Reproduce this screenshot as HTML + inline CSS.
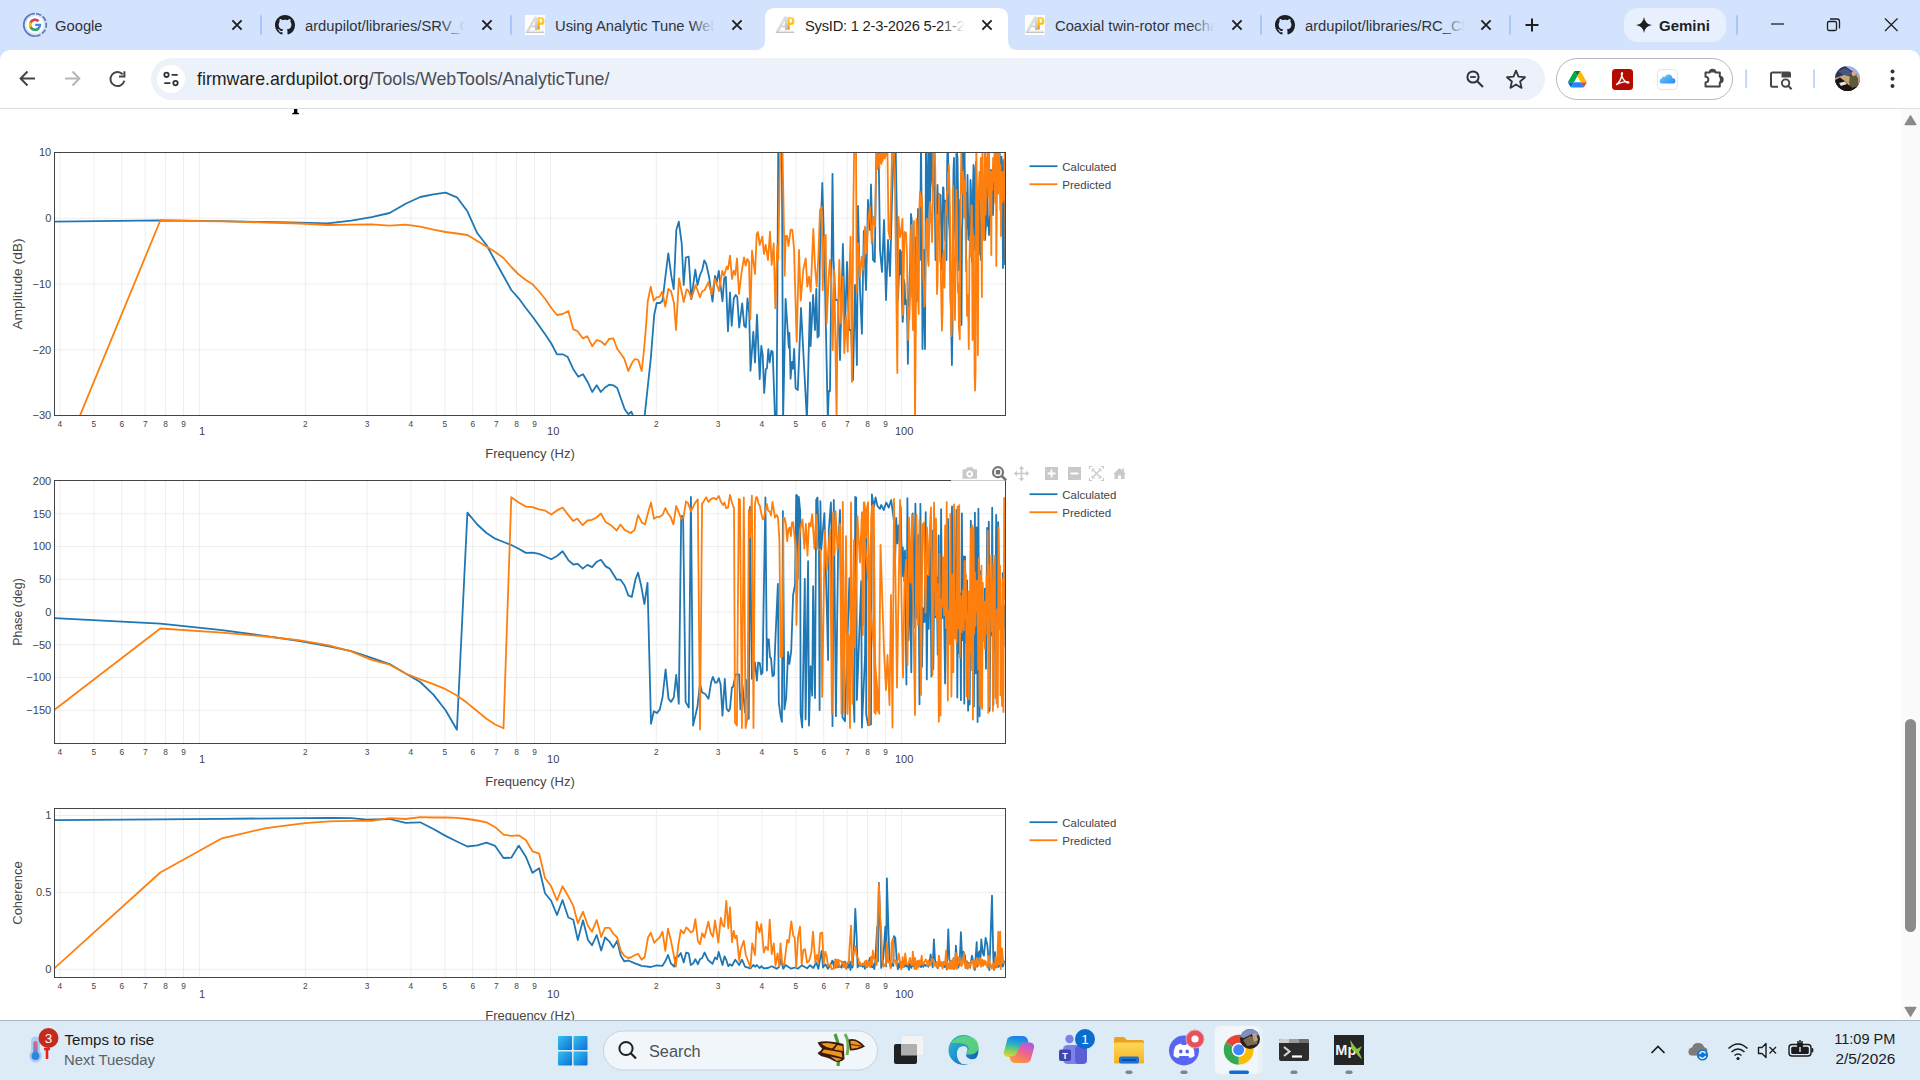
<!DOCTYPE html>
<html><head><meta charset="utf-8"><title>SysID</title>
<style>
*{box-sizing:border-box;margin:0;padding:0}
html,body{width:1920px;height:1080px;overflow:hidden;background:#fff;font-family:"Liberation Sans",sans-serif;}
#root{position:relative;width:1920px;height:1080px;overflow:hidden;background:#fff}
.abs{position:absolute}
#tabstrip{position:absolute;left:0;top:0;width:1920px;height:62px;background:#d3e3fd}
.tabtitle{position:absolute;top:15px;height:22px;line-height:22px;font-size:14.75px;color:#1f1f1f;white-space:nowrap;overflow:hidden}
.tabtitle.in{color:#30343a}
.fade{position:absolute;top:12px;width:28px;height:28px}
.tsep{position:absolute;top:15px;width:2px;height:20px;background:#a8c7fa;border-radius:1px}
#toolbar{position:absolute;left:0;top:50px;width:1920px;height:59px;background:#fff;border-bottom:1px solid #dcdfe3;border-radius:10px 10px 0 0}
#omni{position:absolute;left:151px;top:8px;width:1394px;height:42px;border-radius:21px;background:#edf2fa}
#url{position:absolute;left:46px;top:9px;font-size:17.75px;line-height:24px;color:#4a4d51;white-space:nowrap;letter-spacing:0px}
#url b{font-weight:normal;color:#1f1f1f}
#extpill{position:absolute;left:1556px;top:8px;width:177px;height:42px;border-radius:21px;border:1.5px solid #b7b9bb;background:#fff}
#page{position:absolute;left:0;top:109px;width:1920px;height:911px;background:#fff;overflow:hidden}
#sbar{position:absolute;left:1901px;top:109px;width:19px;height:911px;background:#fafafa}
#taskbar{position:absolute;left:0;top:1020px;width:1920px;height:60px;background:#dcebf5;border-top:1px solid #aeb8c2}
.tb{position:absolute}
.ttxt{font-family:"Liberation Sans",sans-serif;fill:#444}
</style></head><body><div id="root">
<div id="tabstrip">
<svg class="abs" style="left:0;top:0" width="1920" height="62" viewBox="0 0 1920 62">
<defs>
<g id="gh"><path transform="scale(1.25)" fill="#1b1f23" d="M8 0C3.58 0 0 3.58 0 8c0 3.54 2.29 6.53 5.47 7.59.4.07.55-.17.55-.38 0-.19-.01-.82-.01-1.49-2.01.37-2.53-.49-2.69-.94-.09-.23-.48-.94-.82-1.13-.28-.15-.68-.52-.01-.53.63-.01 1.08.58 1.23.82.72 1.21 1.87.87 2.33.66.07-.52.28-.87.51-1.07-1.78-.2-3.64-.89-3.64-3.95 0-.87.31-1.59.82-2.15-.08-.2-.36-1.02.08-2.12 0 0 .67-.21 2.2.82.64-.18 1.32-.27 2-.27.68 0 1.36.09 2 .27 1.53-1.04 2.2-.82 2.2-.82.44 1.1.16 1.92.08 2.12.51.56.82 1.27.82 2.15 0 3.07-1.87 3.75-3.65 3.95.29.25.54.73.54 1.48 0 1.07-.01 1.93-.01 2.2 0 .21.15.46.55.38A8.013 8.013 0 0016 8c0-4.42-3.58-8-8-8z"/></g>
<g id="ap"><rect x="0" y="0" width="20" height="20" fill="#fefefe"/>
<linearGradient id="apa" x1="0" y1="0" x2="1" y2="1"><stop offset="0" stop-color="#f4f4f4"/><stop offset=".55" stop-color="#d9d9d9"/><stop offset="1" stop-color="#b4b4b4"/></linearGradient>
<linearGradient id="app" x1="0" y1="0" x2="0" y2="1"><stop offset="0" stop-color="#ffd84d"/><stop offset=".6" stop-color="#fdb913"/><stop offset="1" stop-color="#f08a00"/></linearGradient>
<path d="M0.600 17.200 L9.200 1.600 L11.800 1.600 L12.300 15.200 L10 15.200 L9.900 12.300 L6.300 12.300 L3.600 17.200 Z M7.300 10.400 L9.800 10.400 L9.600 5.800 Z" fill="url(#apa)" fill-rule="evenodd"/>
<path d="M12.300 2 L16 2 Q19.500 2 19.500 5.900 Q19.500 9.800 16 9.800 L14.800 9.800 L14.800 14.600 L12.300 14.600 Z M14.800 4.100 L14.800 7.700 L15.700 7.700 Q17 7.700 17 5.900 Q17 4.100 15.700 4.100 Z" fill="url(#app)" fill-rule="evenodd"/>
<path d="M0.800 17.400 L19.200 17.400" stroke="#bdbdbd" stroke-width="1"/><path d="M3.500 16.200 L19 16.200" stroke="#dedede" stroke-width=".9"/></g>
<g id="cx"><path d="M-4.6 -4.6 L4.6 4.6 M4.6 -4.6 L-4.6 4.6" stroke="#1f1f1f" stroke-width="1.9" fill="none"/></g>
</defs>
<!-- active tab shape -->
<path d="M755 50 Q765 50 765 40 L765 18 Q765 8 775 8 L998 8 Q1008 8 1008 18 L1008 40 Q1008 50 1018 50 Z" fill="#fff"/>
<!-- google favicon -->
<path d="M35 13.500 A11.300 11.300 0 0 0 35 36.100" fill="none" stroke="#5a7ab5" stroke-width="1.700"/>
<path d="M35 13.500 A11.300 11.300 0 0 1 35 36.100" fill="none" stroke="#5a7ab5" stroke-width="1.700" stroke-dasharray="5.300 1.800" stroke-dashoffset="-1.200"/>
<circle cx="35" cy="24.800" r="8.800" fill="#fff"/>
<g transform="translate(35,24.800) scale(.86)"><path d="M7.200 -1.300 L0.200 -1.300 L0.200 1.500 L4.200 1.500 A4.400 4.400 0 1 1 3 -3.300 L5 -5.300 A7.200 7.200 0 1 0 7.300 0 Z" fill="#4285f4"/><path d="M-6.300 -3.500 A7.200 7.200 0 0 1 5 -5.300 L3 -3.300 A4.400 4.400 0 0 0 -3.900 -2 Z" fill="#ea4335"/><path d="M-6.300 -3.500 L-3.900 -2 A4.400 4.400 0 0 0 -3.900 2.100 L-6.300 3.700 A7.200 7.200 0 0 1 -6.300 -3.500 Z" fill="#fbbc05"/><path d="M-6.300 3.700 L-3.900 2.100 A4.400 4.400 0 0 0 3 3.400 L5.200 5.100 A7.200 7.200 0 0 1 -6.300 3.700 Z" fill="#34a853"/></g>
<use href="#cx" x="237" y="25"/>
<use href="#gh" x="275" y="15"/>
<use href="#cx" x="487" y="25"/>
<use href="#ap" x="525" y="15"/>
<use href="#cx" x="737" y="25"/>
<use href="#ap" x="775" y="15"/>
<use href="#cx" x="987" y="25"/>
<use href="#ap" x="1025" y="15"/>
<use href="#cx" x="1237" y="25"/>
<use href="#gh" x="1275" y="15"/>
<use href="#cx" x="1486" y="25"/>
<!-- plus -->
<path d="M1525.5 25 L1538.5 25 M1532 18.5 L1532 31.5" stroke="#1f1f1f" stroke-width="2" fill="none"/>
<!-- gemini pill -->
<rect x="1624" y="8" width="102" height="34" rx="14" fill="#e9f0fd"/>
<path d="M1644 17 Q1645 24 1652 25 Q1645 26 1644 33 Q1643 26 1636 25 Q1643 24 1644 17 Z" fill="#1f1f1f"/>
<!-- window controls -->
<path d="M1771 24 L1784 24" stroke="#1f1f1f" stroke-width="1.3"/>
<rect x="1827.5" y="21.5" width="9" height="9" rx="1.5" fill="none" stroke="#1f1f1f" stroke-width="1.3"/>
<path d="M1830 19 L1837 19 Q1839.5 19 1839.5 21.5 L1839.5 28.5" fill="none" stroke="#1f1f1f" stroke-width="1.3"/>
<path d="M1885 18.5 L1897.5 31 M1897.5 18.5 L1885 31" stroke="#1f1f1f" stroke-width="1.3"/>
</svg>
<div class="tsep" style="left:260px"></div>
<div class="tsep" style="left:510px"></div>
<div class="tsep" style="left:1260px"></div>
<div class="tsep" style="left:1509px"></div>
<div class="tsep" style="left:1736px"></div>
<div class="tabtitle in" style="left:55px;width:160px">Google</div>
<div class="tabtitle in" style="left:305px;width:162px">ardupilot/libraries/SRV_C</div>
<div class="fade" style="left:441px;background:linear-gradient(90deg,rgba(211,227,253,0),#d3e3fd 85%)"></div>
<div class="tabtitle in" style="left:555px;width:162px">Using Analytic Tune Web</div>
<div class="fade" style="left:691px;background:linear-gradient(90deg,rgba(211,227,253,0),#d3e3fd 85%)"></div>
<div class="tabtitle" style="left:805px;width:162px;letter-spacing:-.25px">SysID: 1 2-3-2026 5-21-2</div>
<div class="fade" style="left:941px;background:linear-gradient(90deg,rgba(255,255,255,0),#fff 85%)"></div>
<div class="tabtitle in" style="left:1055px;width:162px">Coaxial twin-rotor mecha</div>
<div class="fade" style="left:1191px;background:linear-gradient(90deg,rgba(211,227,253,0),#d3e3fd 85%)"></div>
<div class="tabtitle in" style="left:1305px;width:162px">ardupilot/libraries/RC_Cl</div>
<div class="fade" style="left:1441px;background:linear-gradient(90deg,rgba(211,227,253,0),#d3e3fd 85%)"></div>
<div class="tabtitle" style="left:1659px;width:70px;font-size:15px;font-weight:bold;color:#1f1f1f;letter-spacing:0px">Gemini</div>
</div>
<div id="toolbar">
<div id="omni"><div class="abs" style="left:6px;top:7px;width:28px;height:28px;border-radius:14px;background:#fff"></div>
<div id="url"><b>firmware.ardupilot.org</b>/Tools/WebTools/AnalyticTune/</div></div>
<div id="extpill"></div>
<svg class="abs" style="left:0;top:0" width="1920" height="58" viewBox="0 50 1920 58">
<!-- back -->
<path d="M35 78.500 L21 78.500 M27.500 71.500 L20.600 78.500 L27.500 85.500" fill="none" stroke="#444746" stroke-width="2"/>
<!-- forward -->
<path d="M65 78.500 L79 78.500 M72.500 71.500 L79.400 78.500 L72.500 85.500" fill="none" stroke="#b4b6b8" stroke-width="2"/>
<!-- reload -->
<path d="M122.600 74.300 A7 7 0 1 0 124.300 80.600" fill="none" stroke="#444746" stroke-width="2"/>
<path d="M124.400 71.200 L124.400 76.600 L119 76.600" fill="none" stroke="#444746" stroke-width="2"/>
<!-- site info (tune) -->
<g stroke="#30343a" stroke-width="1.800" fill="none"><path d="M171.600 74.800 L177.700 74.800 M164.300 83.100 L170.400 83.100"/><circle cx="166.500" cy="74.800" r="2.200"/><circle cx="175.500" cy="83.100" r="2.200"/></g>
<!-- zoom out icon -->
<g stroke="#30343a" stroke-width="2" fill="none"><circle cx="1473" cy="77" r="5.6"/><path d="M1477.2 81.2 L1483 87"/><path d="M1470.2 77 L1475.8 77" stroke-width="1.8"/></g>
<!-- star -->
<path d="M1516 70.6 L1518.5 76.6 L1525 77.2 L1520.1 81.5 L1521.6 87.9 L1516 84.5 L1510.4 87.9 L1511.9 81.5 L1507 77.2 L1513.5 76.6 Z" fill="none" stroke="#30343a" stroke-width="1.8" stroke-linejoin="round"/>
<!-- drive -->
<g transform="translate(1568.100,71) scale(.2115)"><path d="m6.600 66.850 3.850 6.650c.8 1.400 1.950 2.500 3.300 3.300l13.750-23.800h-27.500c0 1.550.4 3.100 1.200 4.500z" fill="#0066da"/><path d="m43.650 25-13.750-23.800c-1.350.8-2.500 1.900-3.300 3.300l-25.400 44a9.060 9.060 0 0 0 -1.200 4.500h27.500z" fill="#00ac47"/><path d="m73.550 76.800c1.350-.8 2.500-1.900 3.300-3.300l1.600-2.750 7.650-13.250c.8-1.400 1.200-2.950 1.200-4.500h-27.502l5.852 11.500z" fill="#ea4335"/><path d="m43.650 25 13.750-23.800c-1.350-.8-2.900-1.200-4.500-1.200h-18.500c-1.600 0-3.150.45-4.500 1.200z" fill="#00832d"/><path d="m59.800 53h-32.300l-13.750 23.800c1.350.8 2.900 1.200 4.500 1.200h50.800c1.600 0 3.150-.45 4.500-1.200z" fill="#2684fc"/><path d="m73.400 26.500-12.700-22c-.8-1.400-1.950-2.500-3.300-3.300l-13.750 23.800 16.150 28h27.450c0-1.550-.4-3.100-1.200-4.500z" fill="#ffba00"/></g>
<!-- acrobat -->
<rect x="1612" y="69" width="21" height="21" rx="3.5" fill="#b30b00"/>
<path d="M1616.5 84.5 Q1620.5 82 1622.3 74 Q1622.8 72.5 1621.8 72.8 Q1620.8 73.5 1622.3 77 Q1624 81.5 1628 83 Q1629.3 83 1628.5 82 Q1625 80.5 1616.5 84.5 Z" fill="none" stroke="#fff" stroke-width="1.4" stroke-linejoin="round"/>
<!-- icloud -->
<defs><linearGradient id="icg" x1="0" y1="0" x2="1" y2="1"><stop offset="0" stop-color="#6fd0fb"/><stop offset="1" stop-color="#2a86f3"/></linearGradient></defs>
<rect x="1657.5" y="69.5" width="20" height="20" rx="4" fill="#fff" stroke="#e3e5e8" stroke-width="1"/>
<path d="M1662.5 83.6 Q1659.6 83.6 1659.6 81 Q1659.6 78.8 1661.8 78.4 Q1662 76.6 1663.8 76.6 Q1664.4 76.6 1664.9 76.9 Q1666 74.6 1668.6 74.6 Q1672 74.6 1672.4 78 Q1675.4 78.2 1675.4 80.9 Q1675.4 83.6 1672.6 83.6 Z" fill="url(#icg)"/>
<!-- puzzle -->
<path d="M1705.500 72.600 H1709.700 A2.900 2.900 0 0 1 1715.500 72.600 H1719.800 V76.700 A2.900 2.900 0 0 1 1719.800 82.500 V86.600 H1705.500 V82.400 A2.850 2.850 0 0 0 1705.500 76.700 Z" fill="none" stroke="#444746" stroke-width="2" stroke-linejoin="round"/>
<path d="M1709.700 72.600 A2.900 2.900 0 0 1 1715.500 72.600 Z" fill="#444746"/><path d="M1719.800 76.700 A2.900 2.900 0 0 1 1719.800 82.500 Z" fill="#444746"/>
<!-- separators -->
<rect x="1745.100" y="69.300" width="2" height="19" rx="1" fill="#c2d7fb"/>
<rect x="1813" y="69.300" width="2" height="19" rx="1" fill="#c2d7fb"/>
<!-- media/tab search -->
<path d="M1781.500 72.400 H1772.500 Q1771 72.400 1771 73.900 V85.300 Q1771 86.800 1772.500 86.800 H1778" fill="none" stroke="#444746" stroke-width="2"/>
<path d="M1781.500 71.400 H1789 Q1791 71.400 1791 73.400 V77.600 H1781.500 Z" fill="#444746"/>
<circle cx="1785.600" cy="83.100" r="3.700" fill="none" stroke="#444746" stroke-width="1.900"/><path d="M1788.300 85.900 L1791.600 89.300" stroke="#444746" stroke-width="2"/>
<!-- avatar -->
<defs><clipPath id="avc"><circle cx="1847.5" cy="78.5" r="12.5"/></clipPath>
<linearGradient id="avg" x1="0" y1="0" x2="0" y2="1"><stop offset="0" stop-color="#6a7fa8"/><stop offset=".3" stop-color="#8a8a96"/><stop offset=".5" stop-color="#5a4a3c"/><stop offset="1" stop-color="#1c1612"/></linearGradient></defs>
<g clip-path="url(#avc)"><rect x="1835" y="66" width="25" height="25" fill="#9fb2e6"/><rect x="1835" y="78" width="25" height="14" fill="#3a3226"/>
<path d="M1835 66 L1845 66 L1856 74 L1860 79 L1835 82 Z" fill="#2c3654"/>
<path d="M1838 71 L1846 68 L1854 74 L1846 77 Z" fill="#4a5680"/>
<path d="M1835 78 L1844 75 L1852 77 L1860 74 L1860 84 L1835 86 Z" fill="#c7a679"/>
<path d="M1835 80 L1840 77.500 L1846 82 L1850 87 L1860 85 L1860 92 L1835 92 Z" fill="#1b1512"/><rect x="1835" y="87.500" width="25" height="5" fill="#1b1512"/>
<path d="M1850 76 L1855 74.500 L1858 78 L1858.500 86 L1852 88 L1849 83 Z" fill="#5d5a3c"/>
<circle cx="1853.800" cy="73.800" r="2.300" fill="#dba98c"/>
<path d="M1839 83 L1845 81.500 L1847 84 L1841 86 Z" fill="#e8e6e0"/></g>
<!-- menu dots -->
<circle cx="1892.5" cy="71.5" r="2" fill="#30343a"/><circle cx="1892.5" cy="78.8" r="2" fill="#30343a"/><circle cx="1892.5" cy="86.1" r="2" fill="#30343a"/>
</svg>
</div>
<div id="page">
<svg class="abs" style="left:0;top:0" width="1901" height="911" viewBox="0 109 1901 911" font-family="Liberation Sans, sans-serif">
<path d="M294 109 H297.300 V112.600 L299 113.300 V114.200 H292.200 V113.300 L294 112.600 Z" fill="#000"/>
<clipPath id="clip1"><rect x="54.5" y="152.5" width="951.0" height="263.0"/></clipPath>
<path d="M59.9 152.5V415.5M93.9 152.5V415.5M121.7 152.5V415.5M145.2 152.5V415.5M165.6 152.5V415.5M183.5 152.5V415.5M199.6 152.5V415.5M305.3 152.5V415.5M367.1 152.5V415.5M410.9 152.5V415.5M444.9 152.5V415.5M472.7 152.5V415.5M496.2 152.5V415.5M516.6 152.5V415.5M534.5 152.5V415.5M550.6 152.5V415.5M656.3 152.5V415.5M718.1 152.5V415.5M761.9 152.5V415.5M795.9 152.5V415.5M823.7 152.5V415.5M847.2 152.5V415.5M867.6 152.5V415.5M885.5 152.5V415.5M901.6 152.5V415.5" stroke="#eeeeee" stroke-width="1" fill="none"/>
<path d="M54.5 218.2H1005.5M54.5 284.0H1005.5M54.5 349.8H1005.5" stroke="#eeeeee" stroke-width="1" fill="none"/>
<g clip-path="url(#clip1)" fill="none" stroke-linejoin="round" stroke-linecap="butt">
<polyline points="54.5,221.7 160.3,220.3 222.0,221.2 266.0,222.0 300.0,222.6 327.7,223.3 351.2,220.7 371.6,217.2 389.6,213.0 405.6,203.7 420.2,197.0 433.4,194.3 445.6,192.7 456.9,197.3 467.4,211.3 477.3,233.3 486.5,245.0 495.2,261.0 503.5,276.0 511.3,290.0 518.7,298.3 525.8,308.0 532.6,316.7 539.1,325.7 545.3,334.5 551.3,343.5 557.0,354.3 562.6,354.3 567.5,356.7 573.3,369.2 578.3,376.7 583.0,374.2 587.5,381.7 592.2,392.0 596.7,385.3 600.8,392.0 605.0,387.5 609.2,384.7 613.3,385.3 617.2,388.0 620.8,398.3 624.7,409.2 628.3,414.2 631.3,411.7 634.5,419.0 638.0,432.0 641.5,436.0 644.7,415.3 648.3,381.7 650.8,358.3 654.2,315.0 656.7,303.0 660.0,303.0 662.5,300.8 665.3,277.5 668.3,253.3 671.3,275.8 673.7,289.2 676.3,230.0 678.8,221.7 681.7,243.3 683.7,285.0 685.8,257.5 688.7,256.7 691.3,299.2 695.3,269.7 697.5,285.0 700.0,275.0 702.2,270.0 704.3,260.3 706.3,264.2 709.2,277.5 712.5,301.7 715.0,275.8 716.7,282.5 718.8,270.8 722.5,301.3 724.2,278.3 725.8,276.7 728.0,331.3 730.0,292.5 731.7,325.8 733.8,298.3 735.8,295.0 737.2,296.7 739.2,327.5 742.2,303.3 744.2,325.8 745.8,327.5 747.5,298.3 749.2,313.3 750.5,370.8 753.3,331.7 755.0,362.5 757.0,314.7 759.7,379.2 761.3,345.8 762.7,355.0 764.2,393.0 765.8,369.2 767.0,368.3 768.3,349.2 769.7,362.5 771.3,350.8 772.7,351.7 775.0,418.0 776.5,430.0 778.3,140.0 781.8,140.0 783.1,420.0 785.6,298.8 788.8,347.5 789.4,333.0 790.6,378.8 791.9,361.9 793.1,368.8 794.1,348.8 795.6,388.0 797.8,390.0 799.4,350.0 801.0,308.0 806.9,420.0 810.0,302.5 810.6,346.0 813.1,295.0 815.0,330.0 816.3,288.8 817.5,337.5 818.8,336.0 820.0,250.0 822.3,183.0 824.0,240.0 825.0,285.0 827.8,420.0 828.8,391.0 830.0,391.0 831.9,230.0 832.5,173.8 833.5,260.0 835.5,300.0 838.0,300.0 840.0,360.0 842.9,244.0 845.0,330.0 847.0,262.0 849.0,330.0 851.0,330.0 853.0,380.0 855.0,285.0 856.9,365.0 858.0,206.0 860.0,290.0 861.9,333.8 863.8,231.0 866.0,290.0 868.0,200.0 870.0,230.0 871.0,184.4 873.0,260.0 874.8,262.0 876.0,170.0 877.0,140.0 878.5,140.0 880.0,250.0 882.0,272.0 884.0,220.0 886.0,300.0 888.0,240.0 890.0,276.0 892.0,200.0 894.0,140.0 895.5,140.0 896.9,217.5 898.0,300.0 900.0,250.0 900.7,274.0 901.3,251.9 902.0,298.0 902.7,321.9 903.3,313.3 904.0,280.0 904.7,284.5 905.3,304.1 906.0,300.0 906.6,302.5 907.3,324.2 907.9,363.8 908.7,308.0 909.5,280.0 910.2,259.7 911.0,214.0 911.7,219.7 912.3,296.8 913.0,290.0 913.7,247.4 914.3,242.4 915.0,250.0 915.7,237.7 916.3,302.3 917.0,300.0 918.0,209.0 918.7,213.7 919.3,240.4 920.0,260.0 921.0,140.0 921.8,228.5 922.5,349.0 923.2,312.1 924.0,250.0 925.0,349.0 926.0,140.0 926.8,186.2 927.5,250.0 928.5,140.0 929.0,140.0 929.5,186.9 930.0,220.0 930.5,183.0 931.0,146.1 931.5,140.0 932.0,173.7 932.5,182.8 933.0,190.0 933.5,173.7 934.0,140.0 934.5,200.2 935.0,214.4 935.5,260.0 936.0,234.3 936.5,218.1 937.0,198.3 937.5,185.0 938.0,213.0 938.5,193.4 939.0,240.0 939.5,222.9 940.0,212.0 940.5,195.0 941.0,214.2 941.5,227.1 942.0,270.0 942.5,254.4 943.0,187.3 943.5,188.0 944.0,209.0 944.5,202.8 945.0,240.0 945.5,200.6 946.0,221.7 946.5,260.0 947.0,177.0 947.5,145.4 948.0,140.0 948.5,188.3 949.0,222.6 949.5,230.0 950.0,243.4 950.5,299.1 950.9,308.5 951.4,337.8 951.9,365.0 952.5,329.7 953.0,220.0 953.5,170.3 954.0,158.0 954.5,219.8 955.0,230.5 955.5,240.0 956.0,228.1 956.5,140.0 957.0,153.0 957.5,158.1 958.0,192.9 958.5,270.0 959.0,234.1 959.5,259.6 960.0,200.0 960.5,272.2 961.0,310.9 961.5,325.0 962.0,232.3 962.5,218.4 963.0,140.0 963.5,162.3 964.0,165.2 964.5,140.0 965.0,204.5 965.5,192.1 966.0,262.0 966.5,206.9 967.0,227.8 967.5,175.0 968.0,209.5 968.5,239.4 969.0,240.0 969.5,217.1 970.0,220.9 970.5,180.0 971.0,191.5 971.5,254.8 972.0,262.0 972.5,251.3 973.0,188.2 973.5,165.0 974.0,169.0 974.5,224.4 975.0,250.0 975.5,216.7 976.0,162.0 976.5,196.2 977.0,222.4 977.5,290.0 978.0,247.5 978.5,248.3 979.0,200.0 979.5,191.9 980.0,254.6 980.5,230.9 981.0,260.0 981.5,225.9 982.0,203.2 982.5,234.6 983.0,190.0 983.5,223.7 984.0,205.5 984.5,206.1 985.0,240.0 985.5,231.1 986.0,225.3 986.5,175.7 987.0,180.0 987.5,200.8 988.0,226.3 988.5,219.1 989.0,235.0 989.5,221.8 990.0,215.9 990.5,174.7 991.0,170.0 991.5,171.3 992.0,199.6 992.5,206.1 993.0,215.0 993.5,197.7 994.0,170.6 994.5,177.0 995.0,140.0 995.5,161.1 996.0,200.0 996.5,185.9 997.0,173.0 997.5,140.0 998.0,140.0 998.5,140.0 999.0,140.0 999.5,147.6 1000.0,162.2 1000.5,210.0 1001.0,174.2 1001.5,156.6 1002.0,162.0 1002.5,206.1 1003.0,268.0 1003.5,206.7 1004.0,160.0 1004.5,210.0 1005.0,265.0" stroke="#1f77b4" stroke-width="1.8"/>
<polyline points="54.5,477.4 160.3,220.5 222.0,221.3 266.0,222.5 300.0,223.5 327.7,225.0 351.2,224.7 371.6,224.3 389.6,225.7 405.6,224.7 420.2,226.7 433.4,229.7 445.6,232.0 456.9,233.5 467.4,235.0 477.3,241.0 486.5,246.5 495.2,252.0 503.5,258.0 511.3,267.0 518.7,274.5 525.8,280.0 532.6,284.3 539.1,291.5 545.3,299.0 551.3,308.0 557.0,315.0 562.6,314.0 568.3,311.0 573.3,329.3 577.3,331.0 582.7,338.3 587.3,336.3 592.3,346.3 596.7,340.0 600.7,341.3 605.0,345.0 609.0,339.0 613.3,338.3 617.3,349.0 621.0,354.0 624.3,358.7 628.3,371.0 632.3,362.3 635.0,359.0 638.3,360.0 641.7,371.0 644.0,350.0 646.0,326.7 647.7,301.7 650.7,286.7 653.7,300.7 656.7,297.3 659.7,296.7 662.3,291.7 665.3,306.7 668.3,289.0 671.0,291.0 674.0,303.3 676.0,330.0 679.0,278.3 683.7,302.0 686.7,289.3 688.7,291.0 691.3,298.7 695.7,285.0 700.0,297.3 702.3,291.3 704.7,290.0 708.3,282.3 711.7,294.0 715.0,279.0 719.0,291.0 722.3,271.0 724.0,275.7 726.7,266.7 728.0,269.3 730.0,255.7 732.0,279.0 733.7,270.7 735.3,275.0 737.0,258.3 739.0,294.0 741.7,271.7 744.0,257.3 745.7,265.7 747.3,259.0 749.0,261.7 750.3,319.3 752.0,250.7 755.0,274.0 756.7,234.0 758.0,232.0 759.7,245.0 762.3,236.7 764.0,254.0 765.7,245.0 768.0,260.0 770.0,231.7 771.7,265.0 773.7,243.3 775.3,308.3 777.3,245.7 778.3,260.0 779.7,175.0 780.3,140.0 782.3,140.0 783.3,191.7 784.7,275.7 785.7,236.0 787.0,236.0 788.5,246.0 790.6,229.6 792.3,230.0 794.0,248.3 796.7,341.7 799.0,250.0 800.7,300.7 803.3,270.0 805.7,258.3 807.3,286.7 809.0,276.7 810.7,291.7 813.3,229.0 815.0,266.7 816.7,286.7 818.3,258.3 820.0,210.0 821.7,206.7 822.7,290.0 824.3,236.7 825.7,235.0 826.7,323.3 828.7,276.7 830.0,260.0 831.7,290.0 832.7,350.0 834.3,270.0 836.6,420.0 837.3,343.3 839.3,260.0 841.0,323.3 842.7,276.7 844.3,353.3 846.0,316.7 847.7,351.7 849.3,276.7 850.6,236.7 851.9,381.9 853.3,210.0 854.3,140.0 856.0,140.0 856.7,293.0 858.3,243.3 860.0,276.7 861.7,256.7 863.3,270.0 865.0,226.7 866.7,253.3 868.3,220.0 870.0,206.7 871.7,243.3 873.3,216.7 875.0,226.7 876.0,175.0 876.6,140.0 877.1,169.2 877.7,140.0 878.2,166.1 878.8,140.0 879.4,168.3 879.9,140.0 880.5,162.7 881.0,140.0 881.5,163.8 882.1,140.0 882.6,161.2 883.2,140.0 883.8,158.4 884.3,140.0 884.9,158.3 885.4,140.0 886.0,155.5 886.5,140.0 887.0,154.6 887.5,153.0 888.5,231.0 890.0,239.0 892.0,153.0 894.0,153.0 895.0,187.0 897.3,373.1 898.5,217.0 900.0,237.0 901.0,232.0 902.5,219.0 903.0,315.0 904.5,232.0 906.0,233.0 907.0,256.0 908.0,340.0 908.7,308.2 909.3,319.4 910.0,300.0 910.8,233.6 911.5,225.0 912.2,296.3 913.0,330.0 914.0,221.0 915.0,420.0 915.8,330.3 916.5,219.0 917.0,231.1 917.6,278.3 918.1,296.9 918.7,314.0 919.4,207.2 920.0,192.0 920.7,196.4 921.3,206.7 922.0,196.0 922.6,226.7 923.1,275.7 923.7,285.0 924.4,306.6 925.0,303.0 925.6,258.0 926.3,225.0 926.9,218.6 927.4,223.8 928.0,260.0 928.5,266.0 929.0,243.5 929.5,223.7 930.0,202.0 930.5,208.2 931.0,222.1 931.5,213.7 932.0,242.0 932.6,214.2 933.2,160.7 933.8,153.0 934.4,160.5 935.0,153.0 935.6,197.1 936.3,225.0 937.0,294.0 937.6,281.0 938.1,221.5 938.7,215.0 939.2,193.9 939.6,223.4 940.1,261.9 940.6,258.0 941.2,294.9 941.9,330.6 942.5,312.3 943.0,258.0 943.5,253.0 944.0,250.6 944.5,287.7 945.0,258.0 945.5,216.2 946.0,202.5 946.4,214.4 946.9,191.0 947.4,194.4 947.9,172.9 948.3,175.9 948.8,165.0 949.4,183.0 950.0,210.0 950.5,264.7 951.0,323.3 951.5,336.0 952.0,310.5 952.6,246.5 953.1,186.0 953.6,217.2 954.0,287.3 954.5,282.4 955.0,320.0 955.6,263.5 956.3,190.0 956.9,256.2 957.5,262.0 958.0,292.5 958.4,284.0 958.9,328.4 959.3,332.1 959.8,339.4 960.5,200.0 961.3,153.0 961.9,193.4 962.4,175.8 963.0,172.0 963.5,177.2 964.0,217.4 964.5,181.1 965.0,181.0 965.5,198.6 966.0,271.4 966.5,260.0 967.0,315.8 967.5,295.0 968.1,296.5 968.8,349.0 969.4,261.4 970.0,237.0 970.5,256.1 971.0,250.2 971.4,205.1 971.9,206.0 972.5,340.0 973.1,268.6 973.8,236.0 974.6,376.3 975.1,390.5 975.6,370.0 976.3,140.0 977.2,222.0 977.9,355.0 978.7,193.5 979.5,172.0 980.2,200.2 980.8,158.0 981.9,297.0 982.4,140.0 983.1,198.4 984.0,240.0 984.4,210.9 985.0,140.0 985.7,214.5 986.3,158.0 986.9,186.9 987.6,140.0 988.3,197.4 988.9,140.0 989.8,214.3 990.5,172.0 991.3,255.0 991.7,172.0 992.5,189.9 993.1,158.0 993.9,181.0 994.6,150.0 995.2,202.6 995.9,140.0 996.3,266.0 997.4,150.0 998.3,193.5 999.1,140.0 999.7,186.8 1000.4,165.0 1001.0,236.0 1001.8,172.0 1002.6,201.8 1003.4,172.0 1004.1,199.5 1004.9,140.0 1005.6,262.0" stroke="#ff7f0e" stroke-width="1.8"/>
</g>
<rect x="54.5" y="152.5" width="951.0" height="263.0" fill="none" stroke="#444" stroke-width="1"/>
<text x="51.3" y="156.4" text-anchor="end" font-size="11.1" fill="#444">10</text>
<text x="51.3" y="222.2" text-anchor="end" font-size="11.1" fill="#444">0</text>
<text x="51.3" y="287.9" text-anchor="end" font-size="11.1" fill="#444">−10</text>
<text x="51.3" y="353.6" text-anchor="end" font-size="11.1" fill="#444">−20</text>
<text x="51.3" y="419.4" text-anchor="end" font-size="11.1" fill="#444">−30</text>
<text x="59.9" y="427.1" text-anchor="middle" font-size="8.3" fill="#444">4</text>
<text x="93.9" y="427.1" text-anchor="middle" font-size="8.3" fill="#444">5</text>
<text x="121.7" y="427.1" text-anchor="middle" font-size="8.3" fill="#444">6</text>
<text x="145.2" y="427.1" text-anchor="middle" font-size="8.3" fill="#444">7</text>
<text x="165.6" y="427.1" text-anchor="middle" font-size="8.3" fill="#444">8</text>
<text x="183.5" y="427.1" text-anchor="middle" font-size="8.3" fill="#444">9</text>
<text x="202.2" y="435.1" text-anchor="middle" font-size="11.1" fill="#444">1</text>
<text x="305.3" y="427.1" text-anchor="middle" font-size="8.3" fill="#444">2</text>
<text x="367.1" y="427.1" text-anchor="middle" font-size="8.3" fill="#444">3</text>
<text x="410.9" y="427.1" text-anchor="middle" font-size="8.3" fill="#444">4</text>
<text x="444.9" y="427.1" text-anchor="middle" font-size="8.3" fill="#444">5</text>
<text x="472.7" y="427.1" text-anchor="middle" font-size="8.3" fill="#444">6</text>
<text x="496.2" y="427.1" text-anchor="middle" font-size="8.3" fill="#444">7</text>
<text x="516.6" y="427.1" text-anchor="middle" font-size="8.3" fill="#444">8</text>
<text x="534.5" y="427.1" text-anchor="middle" font-size="8.3" fill="#444">9</text>
<text x="553.2" y="435.1" text-anchor="middle" font-size="11.1" fill="#444">10</text>
<text x="656.3" y="427.1" text-anchor="middle" font-size="8.3" fill="#444">2</text>
<text x="718.1" y="427.1" text-anchor="middle" font-size="8.3" fill="#444">3</text>
<text x="761.9" y="427.1" text-anchor="middle" font-size="8.3" fill="#444">4</text>
<text x="795.9" y="427.1" text-anchor="middle" font-size="8.3" fill="#444">5</text>
<text x="823.7" y="427.1" text-anchor="middle" font-size="8.3" fill="#444">6</text>
<text x="847.2" y="427.1" text-anchor="middle" font-size="8.3" fill="#444">7</text>
<text x="867.6" y="427.1" text-anchor="middle" font-size="8.3" fill="#444">8</text>
<text x="885.5" y="427.1" text-anchor="middle" font-size="8.3" fill="#444">9</text>
<text x="904.2" y="435.1" text-anchor="middle" font-size="11.1" fill="#444">100</text>
<text x="485.2" y="457.8" textLength="89.6" lengthAdjust="spacingAndGlyphs" font-size="13.0" fill="#444">Frequency (Hz)</text>
<text transform="translate(21.5,329.6) rotate(-90)" textLength="91.2" lengthAdjust="spacingAndGlyphs" font-size="13.0" fill="#444">Amplitude (dB)</text>
<path d="M1029.5 166.2H1057.5" stroke="#1f77b4" stroke-width="1.8"/>
<path d="M1029.5 184.2H1057.5" stroke="#ff7f0e" stroke-width="1.8"/>
<text x="1062.3" y="171.0" textLength="54" lengthAdjust="spacingAndGlyphs" font-size="11.1" fill="#444">Calculated</text>
<text x="1062.3" y="189.0" textLength="48.8" lengthAdjust="spacingAndGlyphs" font-size="11.1" fill="#444">Predicted</text>
<clipPath id="clip2"><rect x="54.5" y="480.5" width="951.0" height="263.0"/></clipPath>
<path d="M59.9 480.5V743.5M93.9 480.5V743.5M121.7 480.5V743.5M145.2 480.5V743.5M165.6 480.5V743.5M183.5 480.5V743.5M199.6 480.5V743.5M305.3 480.5V743.5M367.1 480.5V743.5M410.9 480.5V743.5M444.9 480.5V743.5M472.7 480.5V743.5M496.2 480.5V743.5M516.6 480.5V743.5M534.5 480.5V743.5M550.6 480.5V743.5M656.3 480.5V743.5M718.1 480.5V743.5M761.9 480.5V743.5M795.9 480.5V743.5M823.7 480.5V743.5M847.2 480.5V743.5M867.6 480.5V743.5M885.5 480.5V743.5M901.6 480.5V743.5" stroke="#eeeeee" stroke-width="1" fill="none"/>
<path d="M54.5 513.7H1005.5M54.5 546.5H1005.5M54.5 579.2H1005.5M54.5 612.0H1005.5M54.5 644.8H1005.5M54.5 677.5H1005.5M54.5 710.3H1005.5" stroke="#eeeeee" stroke-width="1" fill="none"/>
<g clip-path="url(#clip2)" fill="none" stroke-linejoin="round" stroke-linecap="butt">
<polyline points="54.5,618.1 160.3,623.7 222.0,630.2 266.0,636.1 300.0,641.0 327.7,646.2 351.2,651.1 371.6,657.9 389.6,664.0 405.6,673.5 420.2,682.0 433.4,694.6 445.6,710.3 456.9,729.8 467.4,512.6 477.3,524.5 486.5,533.0 495.2,538.7 503.5,542.0 511.3,545.0 518.7,548.8 525.8,552.9 532.6,552.6 539.1,553.8 545.3,556.5 551.3,559.2 557.0,556.0 562.6,551.3 568.3,560.1 573.3,564.5 577.8,563.9 582.7,568.6 587.4,564.9 592.1,567.1 596.8,561.7 600.9,559.8 605.7,566.4 609.7,568.6 616.7,579.7 620.5,579.7 624.5,585.3 628.3,595.4 631.8,597.0 635.6,579.0 638.1,572.7 641.2,585.9 644.4,604.2 647.5,582.8 651.0,723.8 653.8,711.2 656.9,713.1 659.8,709.4 662.5,697.5 665.6,669.4 668.5,698.8 671.0,701.9 673.8,697.5 676.2,675.0 678.8,703.8 681.2,516.2 683.1,516.2 685.6,701.9 688.8,707.5 690.9,496.9 693.1,725.6 697.5,706.2 700.0,683.8 702.1,692.5 705.0,693.8 708.5,698.8 711.2,681.9 712.9,676.9 715.0,682.5 716.9,682.5 718.8,678.1 720.6,684.4 722.5,715.6 724.8,678.8 726.6,708.8 728.5,711.2 730.0,708.8 731.9,687.5 733.1,686.9 735.6,674.4 739.1,674.4 740.4,709.4 742.5,685.0 745.0,712.5 746.9,680.0 748.8,718.8 750.0,506.9 751.9,678.8 755.0,662.5 756.9,680.6 758.1,662.5 759.8,663.1 761.2,674.4 762.5,672.5 765.4,497.5 766.9,670.6 767.5,639.4 768.8,639.4 770.0,657.5 771.0,658.1 772.5,676.2 774.0,675.0 775.6,635.0 777.9,583.8 778.8,702.5 780.6,716.2 781.9,721.9 782.9,511.2 784.4,709.4 786.2,697.5 788.1,651.9 789.4,663.8 791.2,651.2 793.1,595.0 795.0,585.0 796.2,495.0 797.2,495.6 797.8,578.8 798.8,496.9 800.2,511.2 800.6,713.8 802.2,727.5 804.8,578.8 805.6,719.4 808.1,561.2 809.0,725.6 810.6,666.2 812.2,695.6 813.1,586.2 815.0,698.1 816.2,500.0 817.5,497.5 819.0,548.8 819.6,710.0 820.4,501.2 821.2,550.0 824.4,513.1 826.2,585.0 828.1,660.0 828.8,530.0 830.9,502.5 831.9,550.0 832.5,726.2 833.8,500.0 835.9,716.2 838.1,550.0 840.0,510.0 842.5,717.5 845.0,721.2 849.4,578.1 854.4,721.9 855.2,496.9 856.2,497.5 856.9,700.0 861.2,581.2 861.9,727.5 865.0,656.9 866.2,511.2 866.2,714.4 868.1,725.0 871.0,724.4 871.9,494.4 873.8,507.5 875.6,497.5 877.5,506.2 880.0,508.8 881.2,505.0 883.8,510.0 886.2,502.5 888.8,507.5 891.2,500.0 893.8,520.0 894.0,513.6 895.1,561.7 896.2,518.0 897.4,543.4 898.5,525.4 899.8,545.5 900.7,506.8 902.1,576.2 902.8,547.3 904.3,581.3 905.0,550.4 906.4,684.5 907.4,498.2 908.5,640.3 910.0,574.7 911.3,672.3 912.7,513.3 913.9,627.8 915.4,503.6 916.9,617.9 918.3,534.9 919.5,704.3 920.4,503.8 922.0,666.8 922.9,608.1 924.5,622.2 925.7,512.2 926.8,679.4 927.8,575.4 928.7,628.8 930.2,542.1 931.4,676.5 932.0,530.3 933.3,669.3 934.8,523.9 935.8,617.4 936.8,577.5 937.7,654.7 938.7,535.5 939.9,684.4 941.1,509.2 942.2,618.2 943.7,586.1 945.1,683.4 946.5,599.9 947.9,629.4 948.0,518.9 949.1,624.1 949.9,595.1 950.8,632.9 952.0,506.3 953.2,623.5 954.4,560.0 955.5,616.9 956.5,509.8 957.3,697.5 958.2,580.2 959.3,653.0 960.1,593.7 960.9,700.2 961.9,513.3 962.7,640.2 963.5,556.4 964.3,703.7 965.1,556.7 966.1,642.6 967.1,580.5 968.1,710.7 969.0,615.0 969.7,704.6 970.8,520.7 972.0,629.8 973.1,568.8 973.9,706.4 974.9,512.6 975.6,673.3 976.7,527.3 977.6,722.0 978.4,508.7 979.6,716.3 980.7,571.1 981.8,644.5 982.9,603.0 983.9,631.3 984.8,588.6 986.0,668.7 987.1,528.0 988.0,624.3 988.8,521.7 989.6,710.8 990.6,605.1 991.5,635.4 992.2,507.7 993.4,704.9 994.2,596.5 995.1,651.1 996.2,514.8 997.0,669.8 998.2,522.2 999.5,613.3 1000.7,618.6 1002.0,669.7 1002.7,573.1 1003.5,646.6 1004.2,605.5 1005.2,626.9" stroke="#1f77b4" stroke-width="1.8"/>
<polyline points="54.5,709.7 160.3,628.5 222.0,632.7 266.0,636.5 300.0,640.3 327.7,645.2 351.2,651.4 371.6,659.8 389.6,664.7 405.6,673.5 420.2,679.3 433.4,684.2 445.6,689.2 456.9,695.5 467.4,703.1 477.3,711.3 486.5,718.8 495.2,724.5 503.5,728.3 511.3,497.2 518.7,502.5 525.8,506.6 532.6,507.2 539.1,509.4 545.3,510.7 551.3,514.5 557.0,510.4 562.6,507.5 568.3,515.1 573.3,521.1 577.3,518.6 582.7,525.2 587.4,520.5 592.1,519.8 596.5,517.5 600.9,513.5 605.7,522.0 612.0,526.1 616.7,530.5 620.5,524.5 624.5,529.9 630.8,533.0 634.6,529.9 638.1,515.1 641.9,522.5 645.0,524.4 648.1,512.5 651.0,502.5 654.0,518.8 656.9,516.9 659.4,516.9 662.5,515.0 665.4,508.1 668.1,513.8 670.6,516.9 673.4,524.4 676.2,506.0 678.8,512.5 681.2,518.8 683.5,517.5 686.0,501.5 688.1,503.1 691.0,511.2 695.0,503.1 697.8,499.4 700.0,729.4 702.1,503.8 703.8,501.2 706.2,497.2 708.5,501.9 711.2,498.8 713.8,497.9 716.2,499.4 718.8,496.0 721.2,502.5 723.1,505.0 724.4,502.5 726.2,508.1 728.1,507.5 730.0,494.8 731.9,502.5 734.0,508.1 735.0,722.5 736.9,725.6 738.8,498.8 740.0,500.0 741.9,728.1 743.8,497.5 745.6,728.1 747.5,717.5 748.8,510.0 750.0,537.5 751.9,495.6 753.5,728.1 755.0,503.8 756.2,497.2 757.2,497.2 758.5,503.8 759.8,505.6 761.2,513.1 762.8,519.4 764.0,518.1 765.4,510.0 766.9,504.0 768.1,510.6 770.0,511.9 771.0,515.6 772.5,501.9 775.0,517.5 776.9,515.0 778.1,518.1 779.4,540.0 780.6,656.9 782.5,656.2 783.5,517.5 784.8,518.1 786.0,525.0 787.2,541.2 788.4,528.8 789.6,527.5 790.9,536.2 791.9,522.5 793.1,522.2 794.4,535.0 795.6,547.5 796.5,625.0 798.1,555.0 800.0,530.0 802.5,519.4 804.4,548.8 805.9,523.8 807.5,555.6 809.0,523.1 810.6,526.2 812.2,514.4 814.4,548.8 816.2,515.0 817.5,548.8 820.6,550.0 822.2,696.9 824.8,530.0 826.9,570.0 828.8,545.0 830.0,530.0 831.9,713.8 833.1,512.5 834.4,555.0 835.6,511.2 837.5,550.0 840.0,523.8 841.5,713.8 842.8,501.9 844.0,712.5 846.0,536.2 847.5,713.8 848.5,635.0 850.0,728.1 851.0,502.5 852.5,703.8 854.0,540.0 855.0,647.5 857.5,516.2 860.0,562.5 861.9,512.5 862.8,635.0 863.8,502.5 865.0,535.0 866.0,512.5 868.1,502.5 869.0,724.4 870.0,562.5 871.9,506.2 873.8,506.2 875.6,713.8 877.5,691.2 879.4,713.8 862.5,512.5 863.5,625.0 864.5,502.5 866.2,537.5 868.0,502.5 869.5,722.5 871.2,517.5 873.0,505.0 874.5,712.5 876.0,690.0 877.5,710.0 879.0,712.5 880.5,545.0 882.5,605.0 884.0,650.0 886.0,690.0 887.5,655.0 889.5,705.0 891.0,595.0 892.5,727.5 894.0,498.8 895.5,580.0 897.0,687.5 898.8,580.0 900.0,500.0 901.5,600.0 903.0,677.5 904.5,582.5 906.0,560.0 907.5,665.0 909.0,517.5 910.5,582.5 912.0,515.0 913.5,625.0 915.0,715.0 916.5,515.0 918.0,625.0 919.5,520.0 921.0,695.0 922.5,525.0 924.0,522.5 925.5,612.5 927.0,527.5 928.5,575.0 930.0,525.0 931.0,507.5 932.5,675.0 934.0,502.5 935.5,615.0 936.0,518.4 936.9,619.2 937.9,584.2 938.8,721.7 939.5,553.8 940.5,715.5 941.2,599.8 942.2,606.8 943.0,557.2 944.1,615.1 945.1,525.5 945.9,628.0 946.7,502.1 947.8,700.6 948.5,610.6 949.5,644.2 950.4,514.0 951.4,696.6 952.5,574.7 953.3,672.3 954.1,504.3 955.1,638.4 955.9,600.8 956.6,642.5 957.5,506.7 958.3,628.3 959.2,505.1 959.8,657.4 960.6,596.1 961.7,632.4 962.8,590.4 963.8,630.3 964.5,561.6 965.0,560.7 965.4,618.4 965.9,574.7 966.7,696.6 967.2,614.4 967.9,653.8 968.4,591.3 968.9,699.2 969.6,603.7 970.4,653.0 971.0,528.7 971.6,670.2 972.3,525.4 972.9,719.5 973.6,528.2 974.2,633.4 974.9,572.4 975.5,625.8 976.1,580.9 976.8,611.8 977.6,580.9 978.2,669.4 978.8,558.5 979.6,705.6 980.1,576.0 980.6,705.8 981.4,565.7 982.1,708.8 982.8,582.9 983.5,640.6 984.2,601.7 984.8,648.4 985.4,606.7 986.0,607.0 986.7,575.1 987.2,634.5 987.7,530.6 988.3,712.9 988.8,564.7 989.3,706.3 989.8,601.1 990.6,608.3 991.2,555.1 991.7,630.9 992.4,583.4 992.9,710.9 993.4,563.4 994.2,609.5 994.8,555.9 995.4,697.9 995.8,617.5 996.6,703.6 997.1,609.5 997.8,707.3 998.5,527.5 999.2,629.3 1000.0,565.7 1000.5,695.4 1001.1,606.5 1002.0,706.1 1002.7,578.7 1003.4,712.0 1004.2,498.0 1005.0,600.0" stroke="#ff7f0e" stroke-width="1.8"/>
</g>
<rect x="54.5" y="480.5" width="951.0" height="263.0" fill="none" stroke="#444" stroke-width="1"/>
<text x="51.3" y="484.8" text-anchor="end" font-size="11.1" fill="#444">200</text>
<text x="51.3" y="517.6" text-anchor="end" font-size="11.1" fill="#444">150</text>
<text x="51.3" y="550.4" text-anchor="end" font-size="11.1" fill="#444">100</text>
<text x="51.3" y="583.1" text-anchor="end" font-size="11.1" fill="#444">50</text>
<text x="51.3" y="615.9" text-anchor="end" font-size="11.1" fill="#444">0</text>
<text x="51.3" y="648.7" text-anchor="end" font-size="11.1" fill="#444">−50</text>
<text x="51.3" y="681.4" text-anchor="end" font-size="11.1" fill="#444">−100</text>
<text x="51.3" y="714.2" text-anchor="end" font-size="11.1" fill="#444">−150</text>
<text x="59.9" y="755.1" text-anchor="middle" font-size="8.3" fill="#444">4</text>
<text x="93.9" y="755.1" text-anchor="middle" font-size="8.3" fill="#444">5</text>
<text x="121.7" y="755.1" text-anchor="middle" font-size="8.3" fill="#444">6</text>
<text x="145.2" y="755.1" text-anchor="middle" font-size="8.3" fill="#444">7</text>
<text x="165.6" y="755.1" text-anchor="middle" font-size="8.3" fill="#444">8</text>
<text x="183.5" y="755.1" text-anchor="middle" font-size="8.3" fill="#444">9</text>
<text x="202.2" y="763.1" text-anchor="middle" font-size="11.1" fill="#444">1</text>
<text x="305.3" y="755.1" text-anchor="middle" font-size="8.3" fill="#444">2</text>
<text x="367.1" y="755.1" text-anchor="middle" font-size="8.3" fill="#444">3</text>
<text x="410.9" y="755.1" text-anchor="middle" font-size="8.3" fill="#444">4</text>
<text x="444.9" y="755.1" text-anchor="middle" font-size="8.3" fill="#444">5</text>
<text x="472.7" y="755.1" text-anchor="middle" font-size="8.3" fill="#444">6</text>
<text x="496.2" y="755.1" text-anchor="middle" font-size="8.3" fill="#444">7</text>
<text x="516.6" y="755.1" text-anchor="middle" font-size="8.3" fill="#444">8</text>
<text x="534.5" y="755.1" text-anchor="middle" font-size="8.3" fill="#444">9</text>
<text x="553.2" y="763.1" text-anchor="middle" font-size="11.1" fill="#444">10</text>
<text x="656.3" y="755.1" text-anchor="middle" font-size="8.3" fill="#444">2</text>
<text x="718.1" y="755.1" text-anchor="middle" font-size="8.3" fill="#444">3</text>
<text x="761.9" y="755.1" text-anchor="middle" font-size="8.3" fill="#444">4</text>
<text x="795.9" y="755.1" text-anchor="middle" font-size="8.3" fill="#444">5</text>
<text x="823.7" y="755.1" text-anchor="middle" font-size="8.3" fill="#444">6</text>
<text x="847.2" y="755.1" text-anchor="middle" font-size="8.3" fill="#444">7</text>
<text x="867.6" y="755.1" text-anchor="middle" font-size="8.3" fill="#444">8</text>
<text x="885.5" y="755.1" text-anchor="middle" font-size="8.3" fill="#444">9</text>
<text x="904.2" y="763.1" text-anchor="middle" font-size="11.1" fill="#444">100</text>
<text x="485.2" y="785.8" textLength="89.6" lengthAdjust="spacingAndGlyphs" font-size="13.0" fill="#444">Frequency (Hz)</text>
<text transform="translate(21.5,645.8) rotate(-90)" textLength="67.6" lengthAdjust="spacingAndGlyphs" font-size="13.0" fill="#444">Phase (deg)</text>
<path d="M1029.5 494.2H1057.5" stroke="#1f77b4" stroke-width="1.8"/>
<path d="M1029.5 512.2H1057.5" stroke="#ff7f0e" stroke-width="1.8"/>
<text x="1062.3" y="499.0" textLength="54" lengthAdjust="spacingAndGlyphs" font-size="11.1" fill="#444">Calculated</text>
<text x="1062.3" y="517.0" textLength="48.8" lengthAdjust="spacingAndGlyphs" font-size="11.1" fill="#444">Predicted</text>
<g>
<rect x="951" y="464" width="180" height="17" fill="#fff" opacity=".72"/>
<g fill="#c9c9c9">
<path d="M963 469.200 L966 469.200 L967 467.200 L972.500 467.200 L973.500 469.200 L976.500 469.200 Q977 469.200 977 469.700 L977 478.300 Q977 478.800 976.500 478.800 L963 478.800 Q962.500 478.800 962.500 478.300 L962.500 469.700 Q962.500 469.200 963 469.200 Z M969.700 470.600 A3.400 3.400 0 1 0 969.710 470.600 Z M969.700 472.400 A1.600 1.600 0 1 1 969.690 472.400 Z" fill-rule="evenodd"/>
<path d="M1021.500 465.800 L1024.200 469 L1022.300 469 L1022.300 472.700 L1026 472.700 L1026 470.800 L1029.200 473.500 L1026 476.200 L1026 474.300 L1022.300 474.300 L1022.300 478 L1024.200 478 L1021.500 481.200 L1018.800 478 L1020.700 478 L1020.700 474.300 L1017 474.300 L1017 476.200 L1013.800 473.500 L1017 470.800 L1017 472.700 L1020.700 472.700 L1020.700 469 L1018.800 469 Z"/>
<path d="M1045 467 H1058 V480 H1045 Z M1047.500 472.600 V474.400 H1050.600 V477.500 H1052.400 V474.400 H1055.500 V472.600 H1052.400 V469.500 H1050.600 V472.600 Z" fill-rule="evenodd"/>
<path d="M1068 467 H1081 V480 H1068 Z M1070.500 472.600 H1078.500 V474.400 H1070.500 Z" fill-rule="evenodd"/>
<path d="M1113.200 474 L1119.500 468 L1122.300 470.600 L1122.300 468.600 L1124 468.600 L1124 472.200 L1126 474 L1124.600 474 L1124.600 479 L1121 479 L1121 475.500 L1118 475.500 L1118 479 L1114.500 479 L1114.500 474 Z"/>
</g>
<g stroke="#c9c9c9" fill="none" stroke-width="1.1">
<path d="M1089.500 469 V466.500 H1092 M1101 466.500 H1103.500 V469 M1103.500 478 V480.500 H1101 M1092 480.500 H1089.500 V478"/>
<path d="M1092.500 469.500 L1100.500 477.500 M1100.500 469.500 L1092.500 477.500" stroke-width="1.3"/>
<path d="M1092 471.500 V469 H1094.500 M1098.500 469 H1101 V471.500 M1101 475.500 V478 H1098.500 M1094.500 478 H1092 V475.500" stroke-width="1"/>
</g>
<circle cx="998" cy="472.200" r="5" fill="none" stroke="#757575" stroke-width="2.200"/>
<path d="M1001.800 476 L1006.200 480.400" stroke="#757575" stroke-width="2.600"/>
<rect x="995.800" y="470" width="4.400" height="4.400" fill="#757575"/>
</g>
<clipPath id="clip3"><rect x="54.5" y="808.5" width="951.0" height="169.0"/></clipPath>
<path d="M59.9 808.5V977.5M93.9 808.5V977.5M121.7 808.5V977.5M145.2 808.5V977.5M165.6 808.5V977.5M183.5 808.5V977.5M199.6 808.5V977.5M305.3 808.5V977.5M367.1 808.5V977.5M410.9 808.5V977.5M444.9 808.5V977.5M472.7 808.5V977.5M496.2 808.5V977.5M516.6 808.5V977.5M534.5 808.5V977.5M550.6 808.5V977.5M656.3 808.5V977.5M718.1 808.5V977.5M761.9 808.5V977.5M795.9 808.5V977.5M823.7 808.5V977.5M847.2 808.5V977.5M867.6 808.5V977.5M885.5 808.5V977.5M901.6 808.5V977.5" stroke="#eeeeee" stroke-width="1" fill="none"/>
<path d="M54.5 815.5H1005.5M54.5 892.3H1005.5M54.5 969.2H1005.5" stroke="#eeeeee" stroke-width="1" fill="none"/>
<g clip-path="url(#clip3)" fill="none" stroke-linejoin="round" stroke-linecap="butt">
<polyline points="54.5,820.2 160.3,819.4 222.0,818.8 305.0,818.1 330.0,817.8 351.2,818.1 367.0,819.6 389.6,819.0 405.6,822.9 420.2,822.3 433.4,829.0 445.6,835.9 456.9,841.5 467.4,846.5 477.3,845.3 486.5,842.6 495.2,845.9 503.5,858.0 511.3,857.7 518.7,845.6 525.8,856.7 532.5,872.8 539.2,868.3 545.0,893.3 551.2,900.8 557.0,915.0 562.5,900.0 568.3,917.5 573.3,919.7 577.8,940.0 583.0,920.3 588.0,940.0 592.0,945.3 596.7,935.0 601.2,950.5 605.0,937.5 609.5,941.7 613.3,947.5 617.2,940.8 620.8,955.8 624.2,961.3 628.3,960.5 635.0,963.3 641.7,965.8 650.8,967.0 656.7,965.3 662.5,965.8 665.3,961.3 668.0,955.0 670.8,963.3 674.2,966.7 675.8,957.5 678.3,956.7 680.8,953.0 683.7,962.5 686.2,952.5 688.7,953.3 690.8,965.0 693.3,963.3 695.3,959.2 698.0,964.2 700.0,959.2 702.2,958.0 704.5,952.5 708.3,960.3 712.5,963.8 715.0,957.5 717.0,959.2 718.7,952.0 720.8,959.2 722.5,965.0 724.5,956.3 726.3,960.0 728.3,966.3 730.0,964.2 732.0,965.8 735.3,959.7 739.2,965.0 742.0,959.7 745.0,966.7 750.5,968.3 753.3,965.0 755.3,966.7 756.7,965.0 759.5,968.0 761.3,966.3 763.8,968.3 768.0,968.0 771.7,966.3 776.7,968.8 779.2,966.7 780.8,959.2 783.3,968.7 785.5,965.0 791.3,968.7 794.7,967.5 798.0,968.7 801.7,965.3 807.0,968.3 810.0,965.3 813.3,968.0 816.3,962.5 818.3,968.8 821.7,950.8 823.0,967.5 825.3,964.2 828.0,968.8 832.5,960.8 834.2,967.5 840.0,966.7 832.2,960.6 841.4,967.6 842.7,961.7 843.5,966.9 844.9,961.7 846.2,968.9 847.1,963.5 848.2,967.7 849.7,961.4 850.5,970.2 851.6,961.9 852.6,967.5 853.9,947.8 855.3,908.9 856.7,937.8 857.6,967.4 858.6,965.0 860.0,965.9 861.4,965.1 862.6,966.8 864.0,964.5 864.9,968.8 865.9,961.2 866.9,967.3 868.0,964.1 870.0,957.8 870.8,965.7 872.2,967.2 873.1,964.0 874.3,969.0 875.2,961.9 877.2,926.7 877.9,961.5 878.9,882.8 880.6,931.1 881.2,967.9 882.5,963.1 883.3,957.8 885.3,926.7 886.2,966.3 886.9,878.3 888.4,928.9 889.6,963.4 891.0,967.1 892.0,963.9 893.3,965.9 893.9,936.1 895.3,937.8 896.7,960.0 897.9,969.4 899.4,962.7 900.2,967.5 901.2,961.8 902.0,966.3 903.4,961.2 904.7,966.7 905.6,964.9 906.6,966.6 907.7,964.3 908.9,969.8 910.0,963.5 911.3,967.9 912.6,963.2 913.5,966.3 914.8,964.5 916.3,969.0 917.5,961.8 918.9,966.3 920.0,961.7 921.1,967.2 922.2,964.4 923.3,966.9 924.7,964.5 926.0,965.9 927.3,965.3 928.3,966.7 929.6,962.7 930.6,954.4 931.8,961.9 932.7,967.4 933.9,939.4 935.0,960.0 936.3,964.0 937.5,968.1 938.9,962.3 939.8,965.9 941.0,962.4 942.1,965.8 942.9,962.8 944.3,967.2 945.7,963.8 946.8,969.4 948.3,929.4 949.4,960.0 950.2,961.5 951.4,966.6 952.4,963.6 953.9,968.9 955.0,965.1 955.9,945.6 957.3,963.6 958.3,967.7 959.7,962.2 960.9,932.2 962.4,964.2 963.3,951.7 965.0,955.6 965.8,968.1 967.3,961.7 968.1,967.2 968.9,962.9 970.1,967.8 971.0,961.1 972.0,955.6 973.5,963.3 974.8,970.0 976.7,942.2 977.2,966.6 978.3,954.4 979.4,951.1 980.3,962.5 981.3,939.4 982.8,953.3 983.9,955.6 985.6,937.8 987.2,944.4 988.3,955.6 989.3,970.1 990.0,953.3 992.0,895.6 993.3,957.8 994.0,969.9 995.0,952.2 995.9,967.4 997.4,963.0 998.4,967.0 999.5,964.2 1000.5,966.6 1001.5,962.2 1002.9,966.6 1004.4,960.6" stroke="#1f77b4" stroke-width="1.8"/>
<polyline points="54.5,968.2 160.3,872.5 222.0,838.3 266.0,828.1 305.0,823.2 329.3,821.4 351.2,820.8 371.6,820.8 389.6,818.1 405.6,819.0 420.2,817.2 433.4,817.5 445.6,817.5 456.9,817.8 467.4,819.0 477.3,820.5 486.5,822.3 495.2,827.2 503.5,834.7 511.3,835.9 518.7,835.3 525.8,840.0 532.5,851.3 539.2,853.7 545.0,878.0 551.2,886.3 557.0,900.5 562.5,886.3 568.3,896.3 573.3,905.8 577.8,923.3 583.0,911.7 588.0,925.8 592.0,931.7 596.7,920.0 601.2,937.0 605.0,927.8 609.5,927.8 613.3,933.7 617.2,937.5 620.8,950.8 624.2,955.8 628.3,958.0 630.8,957.5 635.0,955.0 638.0,953.8 641.7,959.7 644.7,957.0 648.0,937.5 650.8,932.8 654.2,942.8 656.7,940.0 659.7,937.5 662.5,931.7 665.3,950.8 668.0,928.7 670.8,940.0 673.3,952.5 675.8,966.7 678.3,945.0 680.8,930.0 683.7,933.3 686.2,927.5 688.3,929.2 690.8,932.5 693.3,930.8 695.3,919.2 698.0,941.3 700.0,944.2 702.2,933.3 704.5,937.5 708.3,921.7 710.8,933.3 713.0,936.7 715.0,920.3 718.3,942.5 720.8,917.8 722.5,925.0 724.2,926.7 726.3,900.8 728.3,928.3 730.0,907.5 732.0,942.2 733.7,930.8 735.3,938.3 736.7,935.8 739.2,960.8 740.8,949.2 743.8,940.8 745.8,955.0 748.0,960.8 750.5,967.5 752.2,943.3 755.0,955.0 756.7,921.7 759.5,932.5 761.3,924.2 763.8,952.5 765.8,946.7 768.0,950.0 769.7,919.7 771.7,954.2 773.8,943.3 775.5,965.8 777.5,953.3 779.2,966.7 780.5,943.3 782.2,963.3 784.2,965.0 787.2,940.0 788.8,942.5 791.3,921.3 793.3,935.8 794.7,937.5 796.2,967.5 798.0,937.5 800.0,926.7 801.7,964.2 803.3,950.0 805.0,949.2 807.0,962.5 809.2,960.8 811.3,952.5 813.0,931.7 815.3,962.5 817.0,955.0 818.3,962.5 820.3,933.3 822.2,932.5 823.7,964.2 825.3,951.7 826.7,955.8 828.0,965.8 830.3,964.2 831.7,969.2 834.2,968.3 835.5,960.0 836.7,967.5 838.0,960.8 840.0,966.7 835.0,959.4 838.3,960.0 842.7,962.4 843.9,967.3 844.8,963.2 845.9,968.4 847.1,963.7 847.8,962.2 848.9,963.1 849.4,948.9 851.1,925.6 852.1,964.7 852.8,956.7 853.9,952.2 855.3,946.1 856.7,956.7 858.3,958.3 859.3,964.8 860.2,962.6 861.3,965.4 862.6,963.7 863.6,965.2 864.7,961.5 865.9,967.0 866.7,960.6 867.7,966.8 868.9,961.6 870.1,967.2 871.1,956.7 872.3,965.2 872.8,950.6 874.4,958.9 875.6,960.0 876.7,965.1 877.6,922.2 878.9,883.9 880.2,917.8 881.1,930.0 882.2,960.0 883.7,966.6 884.8,964.3 885.7,965.6 886.9,942.2 888.0,962.2 889.4,961.4 890.7,968.3 891.7,942.2 893.1,938.3 893.6,962.8 894.4,960.0 895.5,960.3 896.4,965.6 897.6,960.1 898.7,953.3 900.1,962.3 901.2,969.4 902.8,957.2 903.2,967.4 904.6,962.7 905.2,953.3 906.5,963.1 907.7,964.9 908.8,962.5 910.0,957.8 911.0,964.0 912.0,965.3 912.8,951.7 914.5,968.8 915.0,957.8 916.3,968.5 917.5,960.7 918.5,967.5 919.4,960.4 920.5,964.9 921.7,955.6 922.8,964.8 924.0,963.1 925.6,959.4 926.4,960.5 927.7,966.1 928.6,960.4 929.9,965.6 931.2,962.1 931.7,958.3 933.1,959.6 934.3,965.9 935.1,963.3 936.3,966.4 937.1,962.1 938.2,967.9 938.9,955.6 940.5,965.4 941.3,961.9 942.5,968.5 943.8,961.7 945.0,965.0 946.1,950.6 947.2,969.5 948.4,963.3 949.4,968.5 950.1,961.4 951.1,968.8 951.9,960.3 952.7,968.7 953.3,957.8 954.6,968.7 955.9,952.8 956.8,968.9 958.0,964.0 958.9,957.2 960.2,963.7 961.4,966.2 962.3,964.0 963.9,953.3 964.6,961.9 965.5,967.9 966.6,960.9 967.7,969.0 968.6,963.6 969.8,967.1 970.7,962.8 971.7,960.6 972.9,960.9 973.7,968.7 975.0,961.0 976.0,967.2 976.7,957.8 978.4,965.7 980.0,957.8 981.0,966.8 982.2,959.7 983.0,966.0 984.0,960.4 985.0,964.9 985.6,961.1 987.4,967.6 988.9,955.6 989.9,966.8 990.6,964.0 991.9,968.5 993.1,963.6 994.4,969.4 995.6,957.2 997.0,967.3 998.3,931.7 998.9,964.7 1000.2,931.7 1000.8,969.1 1002.0,948.3 1003.3,963.3 1004.2,961.4" stroke="#ff7f0e" stroke-width="1.8"/>
</g>
<rect x="54.5" y="808.5" width="951.0" height="169.0" fill="none" stroke="#444" stroke-width="1"/>
<text x="51.3" y="819.4" text-anchor="end" font-size="11.1" fill="#444">1</text>
<text x="51.3" y="896.2" text-anchor="end" font-size="11.1" fill="#444">0.5</text>
<text x="51.3" y="973.1" text-anchor="end" font-size="11.1" fill="#444">0</text>
<text x="59.9" y="989.1" text-anchor="middle" font-size="8.3" fill="#444">4</text>
<text x="93.9" y="989.1" text-anchor="middle" font-size="8.3" fill="#444">5</text>
<text x="121.7" y="989.1" text-anchor="middle" font-size="8.3" fill="#444">6</text>
<text x="145.2" y="989.1" text-anchor="middle" font-size="8.3" fill="#444">7</text>
<text x="165.6" y="989.1" text-anchor="middle" font-size="8.3" fill="#444">8</text>
<text x="183.5" y="989.1" text-anchor="middle" font-size="8.3" fill="#444">9</text>
<text x="202.2" y="997.9" text-anchor="middle" font-size="11.1" fill="#444">1</text>
<text x="305.3" y="989.1" text-anchor="middle" font-size="8.3" fill="#444">2</text>
<text x="367.1" y="989.1" text-anchor="middle" font-size="8.3" fill="#444">3</text>
<text x="410.9" y="989.1" text-anchor="middle" font-size="8.3" fill="#444">4</text>
<text x="444.9" y="989.1" text-anchor="middle" font-size="8.3" fill="#444">5</text>
<text x="472.7" y="989.1" text-anchor="middle" font-size="8.3" fill="#444">6</text>
<text x="496.2" y="989.1" text-anchor="middle" font-size="8.3" fill="#444">7</text>
<text x="516.6" y="989.1" text-anchor="middle" font-size="8.3" fill="#444">8</text>
<text x="534.5" y="989.1" text-anchor="middle" font-size="8.3" fill="#444">9</text>
<text x="553.2" y="997.9" text-anchor="middle" font-size="11.1" fill="#444">10</text>
<text x="656.3" y="989.1" text-anchor="middle" font-size="8.3" fill="#444">2</text>
<text x="718.1" y="989.1" text-anchor="middle" font-size="8.3" fill="#444">3</text>
<text x="761.9" y="989.1" text-anchor="middle" font-size="8.3" fill="#444">4</text>
<text x="795.9" y="989.1" text-anchor="middle" font-size="8.3" fill="#444">5</text>
<text x="823.7" y="989.1" text-anchor="middle" font-size="8.3" fill="#444">6</text>
<text x="847.2" y="989.1" text-anchor="middle" font-size="8.3" fill="#444">7</text>
<text x="867.6" y="989.1" text-anchor="middle" font-size="8.3" fill="#444">8</text>
<text x="885.5" y="989.1" text-anchor="middle" font-size="8.3" fill="#444">9</text>
<text x="904.2" y="997.9" text-anchor="middle" font-size="11.1" fill="#444">100</text>
<text x="485.2" y="1019.8" textLength="89.6" lengthAdjust="spacingAndGlyphs" font-size="13.0" fill="#444">Frequency (Hz)</text>
<text transform="translate(21.5,924.7) rotate(-90)" textLength="63.4" lengthAdjust="spacingAndGlyphs" font-size="13.0" fill="#444">Coherence</text>
<path d="M1029.5 822.2H1057.5" stroke="#1f77b4" stroke-width="1.8"/>
<path d="M1029.5 840.2H1057.5" stroke="#ff7f0e" stroke-width="1.8"/>
<text x="1062.3" y="827.0" textLength="54" lengthAdjust="spacingAndGlyphs" font-size="11.1" fill="#444">Calculated</text>
<text x="1062.3" y="845.0" textLength="48.8" lengthAdjust="spacingAndGlyphs" font-size="11.1" fill="#444">Predicted</text>
</svg>
</div>
<div id="sbar">
<svg class="abs" style="left:0;top:0" width="19" height="911" viewBox="1901 109 19 911">
<path d="M1905.200 124.500 L1910.500 115.800 L1915.800 124.500 Z" fill="#8a8a8a" stroke="#8a8a8a" stroke-width="1.400" stroke-linejoin="round"/>
<path d="M1905.200 1007.500 L1910.500 1016.200 L1915.800 1007.500 Z" fill="#8a8a8a" stroke="#8a8a8a" stroke-width="1.400" stroke-linejoin="round"/>
<rect x="1905" y="719" width="11" height="213" rx="5.500" fill="#8b8b8b"/>
</svg></div>
<div id="taskbar">
<svg class="abs" style="left:0;top:0" width="1920" height="59" viewBox="0 1021 1920 59">
<defs>
<linearGradient id="wing" x1="0" y1="0" x2="1" y2="1"><stop offset="0" stop-color="#35c1f1"/><stop offset="1" stop-color="#0a6fd6"/></linearGradient>
<linearGradient id="thg" x1="0" y1="0" x2="0" y2="1"><stop offset="0" stop-color="#f0607a"/><stop offset="1" stop-color="#3b8fe8"/></linearGradient>
<linearGradient id="edg" x1="0" y1="0" x2="1" y2="1"><stop offset="0" stop-color="#35c1b5"/><stop offset=".5" stop-color="#1b8fd6"/><stop offset="1" stop-color="#0c54a6"/></linearGradient>
<linearGradient id="cop" x1="0" y1="0" x2="1" y2="1"><stop offset="0" stop-color="#2a8bf0"/><stop offset=".35" stop-color="#5ec0d8"/><stop offset=".6" stop-color="#f0b84a"/><stop offset=".8" stop-color="#ee5a7a"/><stop offset="1" stop-color="#b45ae0"/></linearGradient>
<linearGradient id="fold" x1="0" y1="0" x2="0" y2="1"><stop offset="0" stop-color="#ffd75a"/><stop offset="1" stop-color="#f5b320"/></linearGradient>
</defs>
<!-- weather -->
<rect x="31" y="1036.5" width="9" height="26" rx="4.5" fill="#a9cdf6"/><circle cx="35.5" cy="1056" r="6.2" fill="#a9cdf6"/>
<rect x="33.3" y="1041" width="4.4" height="16" rx="2.2" fill="url(#thg)"/><circle cx="35.5" cy="1056" r="4" fill="#2f86e0"/>
<path d="M47 1059 L47 1049 M44 1049 L50 1049" stroke="#e8211b" stroke-width="2.6"/>
<circle cx="48.5" cy="1038" r="10" fill="#c42b1c"/>
<text x="48.5" y="1043" text-anchor="middle" font-family="Liberation Sans" font-size="13.5" fill="#fff">3</text>
<text x="64.5" y="1045.2" font-family="Liberation Sans" font-size="15.1" fill="#1b1b1b">Temps to rise</text>
<text x="64" y="1065.2" font-family="Liberation Sans" font-size="14.9" fill="#5d6166">Next Tuesday</text>
<!-- windows -->
<g fill="url(#wing)"><rect x="558" y="1036" width="14" height="14" rx="1"/><rect x="573.5" y="1036" width="14" height="14" rx="1"/><rect x="558" y="1051.5" width="14" height="14" rx="1"/><rect x="573.5" y="1051.5" width="14" height="14" rx="1"/></g>
<!-- search pill -->
<rect x="603.5" y="1031" width="274" height="39" rx="19.5" fill="#f1f6fb" stroke="#c5d2de" stroke-width="1"/>
<circle cx="626" cy="1048.5" r="6.6" fill="none" stroke="#202020" stroke-width="2"/><path d="M630.8 1053.3 L636 1058.5" stroke="#202020" stroke-width="2.2"/>
<text x="649" y="1056.5" font-family="Liberation Sans" font-size="16.3" fill="#4d5156">Search</text>
<!-- butterfly -->
<path d="M835 1034 Q841 1048 838 1066" stroke="#4c9a3c" stroke-width="3.2" fill="none"/><path d="M845 1034 Q850 1042 847 1055" stroke="#6fae4e" stroke-width="3" fill="none"/>
<path d="M817.5 1042.5 Q826 1039.500 843.500 1044 L844.500 1059 Q841 1063 835 1061.500 Q830 1058.500 826.500 1057.500 Q820 1056.500 817.500 1053 Q821.500 1050.500 822 1048.500 Q819 1045.500 817.500 1042.500 Z" fill="#3a1a0c"/>
<path d="M821 1043.800 Q828 1042 836 1044.600 L832 1048.500 Q826 1047.500 821 1043.800 Z M837.500 1045 L842.500 1046 L842.800 1051 L834 1049.500 Z M824 1049.500 L832.500 1050.800 L841.500 1052.500 L842.500 1057.500 L833 1055 Q827 1053.500 821.500 1052.500 Z M830.500 1056.500 L841.500 1059 Q839.500 1061.500 836 1060.500 Z" fill="#f0961c"/>
<path d="M848.500 1039.500 Q857 1037 865 1046.500 Q858 1050.500 850 1050.500 Z" fill="#3a1a0c"/>
<path d="M850.300 1041 Q856 1039.500 862 1046 Q857 1048.800 851.500 1048.800 Z" fill="#f0961c"/>
<path d="M851 1044.500 L861 1046" stroke="#3a1a0c" stroke-width=".9"/>
<!-- task view -->
<rect x="901" y="1035.5" width="23" height="20" rx="2" fill="#f3f3f3" stroke="#d8dde2" stroke-width=".6"/>
<rect x="894" y="1044" width="23" height="20" rx="2" fill="#202020"/>
<rect x="901" y="1044" width="16" height="11.5" fill="#c9c9c9" opacity=".85"/>
<!-- edge -->
<circle cx="963.5" cy="1050" r="15" fill="url(#edg)"/>
<path d="M951 1043 Q960 1032 974 1038 Q980 1043 978 1050 Q974 1056 966 1054 Q972 1047 964 1044 Q956 1042 951 1043 Z" fill="#5fd67a" opacity=".9"/>
<path d="M957 1052 Q958 1046 964 1046 Q969 1047 967 1052 Q964 1057 970 1059 Q974 1060 978 1057 Q972 1066 962 1064 Q956 1060 957 1052 Z" fill="#dbe9f4"/>
<!-- copilot -->
<defs><linearGradient id="cpl" x1="0.3" y1="0" x2="0.1" y2="1"><stop offset="0" stop-color="#1f7fe8"/><stop offset=".35" stop-color="#28b0c8"/><stop offset=".65" stop-color="#7ccf60"/><stop offset="1" stop-color="#f2d23c"/></linearGradient>
<linearGradient id="cpr" x1="0.8" y1="0" x2="0.3" y2="1"><stop offset="0" stop-color="#a35cf0"/><stop offset=".45" stop-color="#ee5f95"/><stop offset="1" stop-color="#fb9a3c"/></linearGradient></defs>
<path d="M1007.500 1038.500 Q1009.500 1036 1013 1036 L1022.500 1036 Q1027 1036 1028 1040.500 L1028.600 1043 L1026.500 1043 Q1022.500 1043 1021 1046.500 L1017.800 1054 Q1016.500 1057 1013 1057 L1008 1057 Q1003 1056.500 1004 1051.500 Z" fill="url(#cpl)"/>
<path d="M1030.500 1060.500 Q1028.500 1063 1025 1063 L1015.500 1063 Q1011 1063 1010 1058.500 L1009.400 1056.500 L1011.500 1056.500 Q1015.500 1056.500 1017 1053 L1020.200 1045.500 Q1021.500 1042.500 1025 1042.500 L1030 1042.500 Q1035 1043 1034 1048 Z" fill="url(#cpr)"/>
<!-- teams -->
<circle cx="1069.500" cy="1039" r="4.200" fill="#7b83eb"/><rect x="1063" y="1045" width="21" height="19" rx="4.500" fill="#7b83eb"/><rect x="1075" y="1046" width="12" height="18" rx="4" fill="#5a5fd6"/>
<rect x="1059" y="1049.500" width="12" height="11.500" rx="2" fill="#4245b0"/><text x="1065" y="1058.800" text-anchor="middle" font-family="Liberation Sans" font-weight="bold" font-size="9" fill="#fff">T</text>
<circle cx="1085" cy="1039" r="10" fill="#0a6cce"/><text x="1085" y="1044" text-anchor="middle" font-family="Liberation Sans" font-size="13.500" fill="#fff">1</text>
<!-- explorer -->
<path d="M1114 1039 Q1114 1037 1116 1037 L1124 1037 L1127 1040 L1142 1040 Q1144 1040 1144 1042 L1144 1063 L1114 1063 Z" fill="#e9a320"/>
<rect x="1114" y="1042.500" width="30" height="21" rx="1.500" fill="url(#fold)"/>
<rect x="1119" y="1056.500" width="20" height="7" rx="2" fill="#1a73d8"/><rect x="1122" y="1059" width="14" height="2" fill="#0c4fa0"/>
<!-- discord -->
<circle cx="1184" cy="1050.500" r="15" fill="#5865f2"/>
<path d="M1175.500 1046 Q1179 1043.500 1181 1043.500 L1182 1045 L1186 1045 L1187 1043.500 Q1189 1043.500 1192.500 1046 Q1195 1051 1194.500 1056 Q1192 1058 1189.500 1058 L1188.500 1056 L1179.500 1056 L1178.500 1058 Q1176 1058 1173.500 1056 Q1173 1051 1175.500 1046 Z" fill="#fff"/>
<ellipse cx="1180.800" cy="1051.500" rx="1.800" ry="2.100" fill="#5865f2"/><ellipse cx="1187.200" cy="1051.500" rx="1.800" ry="2.100" fill="#5865f2"/>
<circle cx="1195" cy="1039" r="9" fill="#e8505b" stroke="#f0a0a6" stroke-width="1"/><circle cx="1195" cy="1039" r="3.600" fill="#fff"/>
<!-- chrome active -->
<rect x="1215" y="1026" width="48" height="48" rx="5" fill="#eaf2f9" stroke="#e3ecf4" stroke-width="1"/>
<rect x="1215" y="1026" width="43" height="48" rx="5" fill="#f1f6fb"/>
<circle cx="1238.700" cy="1049.800" r="15" fill="#fff"/>
<path d="M1238.700 1049.800 L1225.710 1042.300 A15 15 0 0 1 1251.690 1042.300 Z" fill="#ea4335"/>
<path d="M1238.700 1049.800 L1251.690 1042.300 A15 15 0 0 1 1238.700 1064.800 Z" fill="#fbbc05"/>
<path d="M1238.700 1049.800 L1238.700 1064.800 A15 15 0 0 1 1225.710 1042.300 Z" fill="#34a853"/>
<path d="M1238.700 1042.300 L1251.690 1042.300 A15 15 0 0 0 1238.700 1034.800 Z" fill="#ea4335"/>
<circle cx="1238.700" cy="1049.800" r="7" fill="#fff"/><circle cx="1238.700" cy="1049.800" r="5.500" fill="#4285f4"/>
<clipPath id="avc2"><circle cx="1250" cy="1039" r="10"/></clipPath>
<g clip-path="url(#avc2)"><rect x="1240" y="1029" width="20" height="20" fill="#2a221d"/><path d="M1240 1029 L1260 1029 L1260 1036 L1252 1034 L1244 1038 L1240 1037 Z" fill="#7f8fc4"/><path d="M1243 1040 L1250 1036 L1258 1039 L1257 1044 L1247 1046 Z" fill="#7a6a52"/><path d="M1252 1034 L1256 1033 L1258 1040 L1254 1042 Z" fill="#b9a27e"/></g>
<rect x="1229" y="1070.500" width="20" height="3.500" rx="1.750" fill="#0f6cd6"/>
<!-- terminal -->
<rect x="1279" y="1039" width="30" height="22" rx="2" fill="#2d2d2d"/>
<path d="M1279 1043 V1041 Q1279 1039 1281 1039 H1289 V1043 Z" fill="#cfcfcf"/><rect x="1289" y="1039" width="10" height="4" fill="#9b9b9b"/><path d="M1299 1039 H1307 Q1309 1039 1309 1041 V1043 H1299 Z" fill="#6f6f6f"/>
<path d="M1284 1047 L1289.500 1051.500 L1284 1056" stroke="#d4d4d4" stroke-width="2.200" fill="none"/><path d="M1292 1056.500 L1302 1056.500" stroke="#fff" stroke-width="2.200"/>
<!-- MP -->
<rect x="1334" y="1035" width="30" height="30" fill="#252525"/>
<text x="1335.300" y="1055.200" font-family="Liberation Sans" font-weight="bold" font-size="15.500" fill="#f2f2f2" textLength="21" lengthAdjust="spacingAndGlyphs">Mp</text>
<path d="M1350 1039.500 Q1354 1046 1357 1049 L1362 1046 L1359 1052 Q1361 1056 1362 1059.500 Q1357 1055 1355.500 1052 L1352 1050 Z" fill="#8cc63f"/>
<!-- indicators -->
<g fill="#7d8790"><rect x="1125.500" y="1070.500" width="7" height="3.500" rx="1.750"/><rect x="1180.500" y="1070.500" width="7" height="3.500" rx="1.750"/><rect x="1290.500" y="1070.500" width="7" height="3.500" rx="1.750"/><rect x="1345.500" y="1070.500" width="7" height="3.500" rx="1.750"/></g>
<!-- tray -->
<path d="M1651.500 1053 L1658 1046.500 L1664.500 1053" fill="none" stroke="#1b1b1b" stroke-width="1.700"/>
<path d="M1692 1056 Q1688 1056 1688 1051.500 Q1688 1047.500 1692 1047 Q1693 1042.500 1698 1042.500 Q1703 1042.500 1704.500 1047 Q1708 1047.500 1708 1051 L1704 1056 Z" fill="#7b7b7b" stroke="#f2f2f2" stroke-width=".8"/>
<circle cx="1702.500" cy="1055" r="5.600" fill="#0f78d4"/><path d="M1699.500 1054 A3.200 3.200 0 0 1 1705.500 1053.500 M1705.500 1056 A3.200 3.200 0 0 1 1699.500 1056.500" stroke="#fff" stroke-width="1.300" fill="none"/>
<g fill="none" stroke="#1b1b1b" stroke-width="1.500"><path d="M1728.500 1048.500 Q1738 1039.500 1747.500 1048.500"/><path d="M1731.500 1052 Q1738 1046 1744.500 1052"/><path d="M1734.500 1055.500 Q1738 1052.500 1741.500 1055.500"/></g><circle cx="1738" cy="1058.500" r="1.600" fill="#1b1b1b"/>
<path d="M1758.500 1047.500 L1762 1047.500 L1766 1043.500 L1766 1057.500 L1762 1053.500 L1758.500 1053.500 Z" fill="none" stroke="#1b1b1b" stroke-width="1.400" stroke-linejoin="round"/><path d="M1769.500 1047 L1776 1053.500 M1776 1047 L1769.500 1053.500" stroke="#1b1b1b" stroke-width="1.300"/>
<rect x="1789" y="1044.500" width="22" height="11.500" rx="3" fill="none" stroke="#1b1b1b" stroke-width="1.400"/><rect x="1811.500" y="1048" width="1.800" height="4.500" rx=".9" fill="#1b1b1b"/>
<rect x="1791.200" y="1046.700" width="17.600" height="7.200" rx="1.500" fill="#1b1b1b"/><path d="M1800 1040 L1800 1046 M1798 1041 L1798 1044 M1802 1041 L1802 1044" stroke="#1b1b1b" stroke-width="1.500"/><rect x="1797" y="1043" width="6" height="4" rx="1" fill="#1b1b1b"/><path d="M1800 1047 L1800 1052" stroke="#dbe9f4" stroke-width="1.400"/>
<text x="1834.2" y="1044.4" textLength="61.2" lengthAdjust="spacingAndGlyphs" font-family="Liberation Sans" font-size="15.2" fill="#1b1b1b">11:09 PM</text>
<text x="1835.4" y="1064.3" textLength="60" lengthAdjust="spacingAndGlyphs" font-family="Liberation Sans" font-size="15.2" fill="#1b1b1b">2/5/2026</text>
</svg>
</div>
</div></body></html>
